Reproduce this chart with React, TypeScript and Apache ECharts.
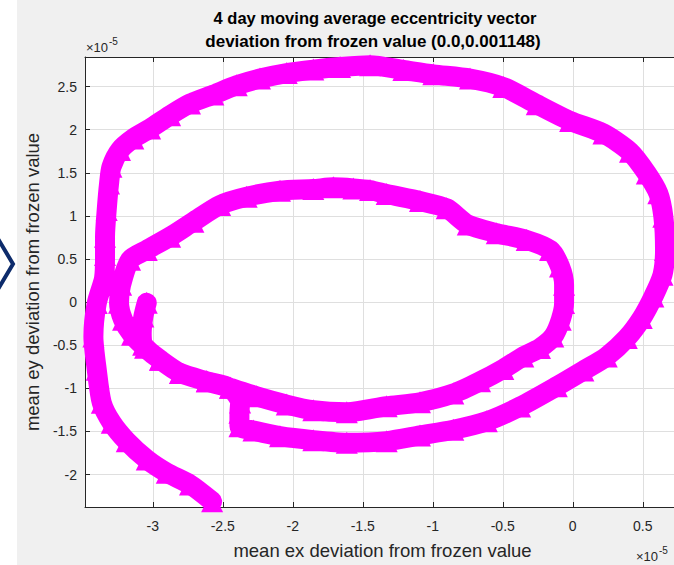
import React, { useEffect, useRef } from "react";
import * as echarts from "echarts";

// Mean eccentricity vector deviation from the frozen value, in units of 1e-5: [ex, ey]
const tailSegment: [number, number][] = [
  [-2.576, -2.311], [-2.734, -2.115], [-2.9, -1.979], [-3.043, -1.825], [-3.186, -1.613],
  [-3.293, -1.4], [-3.364, -1.169], [-3.4, -0.784], [-3.424, -0.398], [-3.4, -0.012], [-3.348, 0.278],
];
const outerLoop: [number, number][] = [
  [-3.341, 0.547], [-3.341, 0.759], [-3.329, 1.068], [-3.312, 1.377], [-3.295, 1.569], [-3.234, 1.763],
  [-3.139, 1.898], [-3.019, 2.014], [-2.876, 2.168], [-2.734, 2.303], [-2.567, 2.407], [-2.4, 2.515],
  [-2.234, 2.593], [-2.043, 2.657], [-1.853, 2.697], [-1.662, 2.727], [-1.448, 2.747], [-1.21, 2.692],
  [-0.996, 2.642], [-0.734, 2.593], [-0.496, 2.495], [-0.257, 2.295], [-0.019, 2.102], [0.219, 1.956],
  [0.409, 1.743], [0.529, 1.493], [0.611, 1.262], [0.647, 0.991], [0.659, 0.605], [0.641, 0.316],
  [0.576, 0.065], [0.493, -0.185], [0.386, -0.417], [0.243, -0.63], [0.076, -0.795], [-0.114, -0.977],
  [-0.376, -1.212], [-0.614, -1.382], [-0.853, -1.481], [-1.091, -1.547], [-1.329, -1.613],
  [-1.614, -1.632], [-1.853, -1.602], [-2.091, -1.556], [-2.281, -1.49], [-2.381, -1.44],
];
const jogSegment: [number, number][] = [
  [-2.381, -1.285], [-2.376, -1.166],
];
const middleBand: [number, number][] = [
  [-2.448, -0.995], [-2.614, -0.919], [-2.805, -0.822], [-2.948, -0.668], [-3.055, -0.529],
  [-3.148, -0.378], [-3.212, -0.205], [-3.241, -0.008], [-3.226, 0.2],
];
const innerLoop: [number, number][] = [
  [-3.162, 0.49], [-3.043, 0.605], [-2.876, 0.759], [-2.71, 0.933], [-2.519, 1.126], [-2.329, 1.222],
  [-2.091, 1.292], [-1.853, 1.311], [-1.71, 1.331], [-1.567, 1.319], [-1.448, 1.3], [-1.329, 1.253],
  [-1.091, 1.172], [-0.9, 1.088], [-0.75, 0.9], [-0.543, 0.799], [-0.329, 0.721], [-0.162, 0.605],
  [-0.091, 0.412], [-0.062, 0.2], [-0.062, -0.012], [-0.086, -0.205], [-0.139, -0.398], [-0.234, -0.532],
  [-0.353, -0.63], [-0.496, -0.775], [-0.662, -0.919], [-0.853, -1.061], [-1.091, -1.162],
  [-1.329, -1.208], [-1.614, -1.278], [-1.853, -1.255], [-2.043, -1.189], [-2.257, -1.093],
  [-2.448, -0.995], [-2.614, -0.919], [-2.805, -0.822], [-2.948, -0.668], [-3.069, -0.494],
];
const stubSegment: [number, number][] = [
  [-3.079, -0.359], [-3.067, -0.167], [-3.043, -0.008],
];

const xRange = [-3.484, 0.766];
const yRange = [-2.377, 2.843];
const titleLines = [
  "4 day moving average eccentricity vector",
  "deviation from frozen value (0.0,0.001148)",
];
const xAxisTitle = "mean ex deviation from frozen value";
const yAxisTitle = "mean ey deviation from frozen value";
const exponentBase = "\u00d710";
const exponentPower = "-5";

export default function App() {
  const ref = useRef<HTMLDivElement>(null);
  useEffect(() => {
    if (!ref.current) return;
    const chart = echarts.init(ref.current, null, { renderer: "svg" });
    const font = "'Liberation Sans', Arial, Helvetica, sans-serif";
    const axisColor = "#262626";
    const data = [
      ...tailSegment,
      ...outerLoop,
      ...jogSegment,
      ...middleBand,
      ...innerLoop,
      ...stubSegment,
    ];
    const fmt = (v: number) => String(Math.round(v * 100) / 100);
    chart.setOption({
      animation: false,
      backgroundColor: "#f0f0f0",
      grid: {
        left: 85,
        top: 57,
        width: 595,
        height: 451,
        show: true,
        backgroundColor: "#ffffff",
        borderWidth: 0,
      },
      xAxis: [
        {
          type: "value",
          min: xRange[0],
          max: xRange[1],
          splitNumber: 8,
          position: "bottom",
          name: xAxisTitle,
          nameLocation: "middle",
          nameGap: 34,
          nameTextStyle: { fontFamily: font, fontSize: 18.5, color: axisColor },
          axisLine: { show: true, onZero: false, lineStyle: { color: axisColor, width: 1 } },
          axisTick: { show: true, inside: true, length: 5, lineStyle: { color: axisColor } },
          axisLabel: {
            showMinLabel: false,
            showMaxLabel: false,
            margin: 12,
            fontFamily: font,
            fontSize: 14,
            color: axisColor,
            formatter: fmt,
          },
          splitLine: { show: true, lineStyle: { color: "#dfdfdf", width: 1 } },
        },
        {
          type: "value",
          min: xRange[0],
          max: xRange[1],
          splitNumber: 8,
          position: "top",
          axisLine: { show: true, onZero: false, lineStyle: { color: axisColor, width: 1 } },
          axisTick: { show: true, inside: true, length: 5, lineStyle: { color: axisColor } },
          axisLabel: { show: false },
          splitLine: { show: false },
        },
      ],
      yAxis: [
        {
          type: "value",
          min: yRange[0],
          max: yRange[1],
          splitNumber: 10,
          position: "left",
          name: yAxisTitle,
          nameLocation: "middle",
          nameGap: 41,
          nameRotate: 90,
          nameTextStyle: { fontFamily: font, fontSize: 18.5, color: axisColor },
          axisLine: { show: true, onZero: false, lineStyle: { color: axisColor, width: 1 } },
          axisTick: { show: true, inside: true, length: 5, lineStyle: { color: axisColor } },
          axisLabel: {
            showMinLabel: false,
            showMaxLabel: false,
            margin: 8,
            fontFamily: font,
            fontSize: 14,
            color: axisColor,
            formatter: fmt,
          },
          splitLine: { show: true, lineStyle: { color: "#dfdfdf", width: 1 } },
        },
      ],
      series: [
        {
          type: "line",
          data,
          xAxisIndex: 0,
          yAxisIndex: 0,
          smooth: 0.25,
          showSymbol: true,
          showAllSymbol: true,
          symbol: "triangle",
          symbolSize: 22,
          itemStyle: { color: "#ff00ff" },
          lineStyle: { color: "#ff00ff", width: 20, cap: "round", join: "round" },
          clip: true,
          z: 3,
        },
      ],
      graphic: [
        { type: "rect", silent: true, shape: { x: 0, y: 0, width: 17, height: 565 }, style: { fill: "#ffffff" } },
        {
          type: "polyline",
          silent: true,
          shape: { points: [[-3, 237], [13, 264], [-3, 291]] },
          style: { stroke: "#0d2b6b", lineWidth: 4, fill: "none" },
        },
        {
          type: "text",
          x: 375,
          y: 18,
          style: { text: titleLines[0], font: `bold 16.5px ${font}`, fill: "#000000", align: "center", verticalAlign: "middle" },
        },
        {
          type: "text",
          x: 373,
          y: 41,
          style: { text: titleLines[1], font: `bold 17px ${font}`, fill: "#000000", align: "center", verticalAlign: "middle" },
        },
        {
          type: "text",
          x: 86,
          y: 47,
          style: { text: exponentBase, font: `13px ${font}`, fill: axisColor, align: "left", verticalAlign: "middle" },
        },
        {
          type: "text",
          x: 109,
          y: 41,
          style: { text: exponentPower, font: `10px ${font}`, fill: axisColor, align: "left", verticalAlign: "middle" },
        },
        {
          type: "text",
          x: 636,
          y: 556,
          style: { text: exponentBase, font: `13px ${font}`, fill: axisColor, align: "left", verticalAlign: "middle" },
        },
        {
          type: "text",
          x: 659,
          y: 550,
          style: { text: exponentPower, font: `10px ${font}`, fill: axisColor, align: "left", verticalAlign: "middle" },
        },
      ],
    });
    return () => chart.dispose();
  }, []);
  return (
    <div style={{ position: "absolute", left: 0, top: 0, width: 674, height: 565, overflow: "hidden" }}>
      <div ref={ref} style={{ width: 700, height: 565 }} />
    </div>
  );
}
